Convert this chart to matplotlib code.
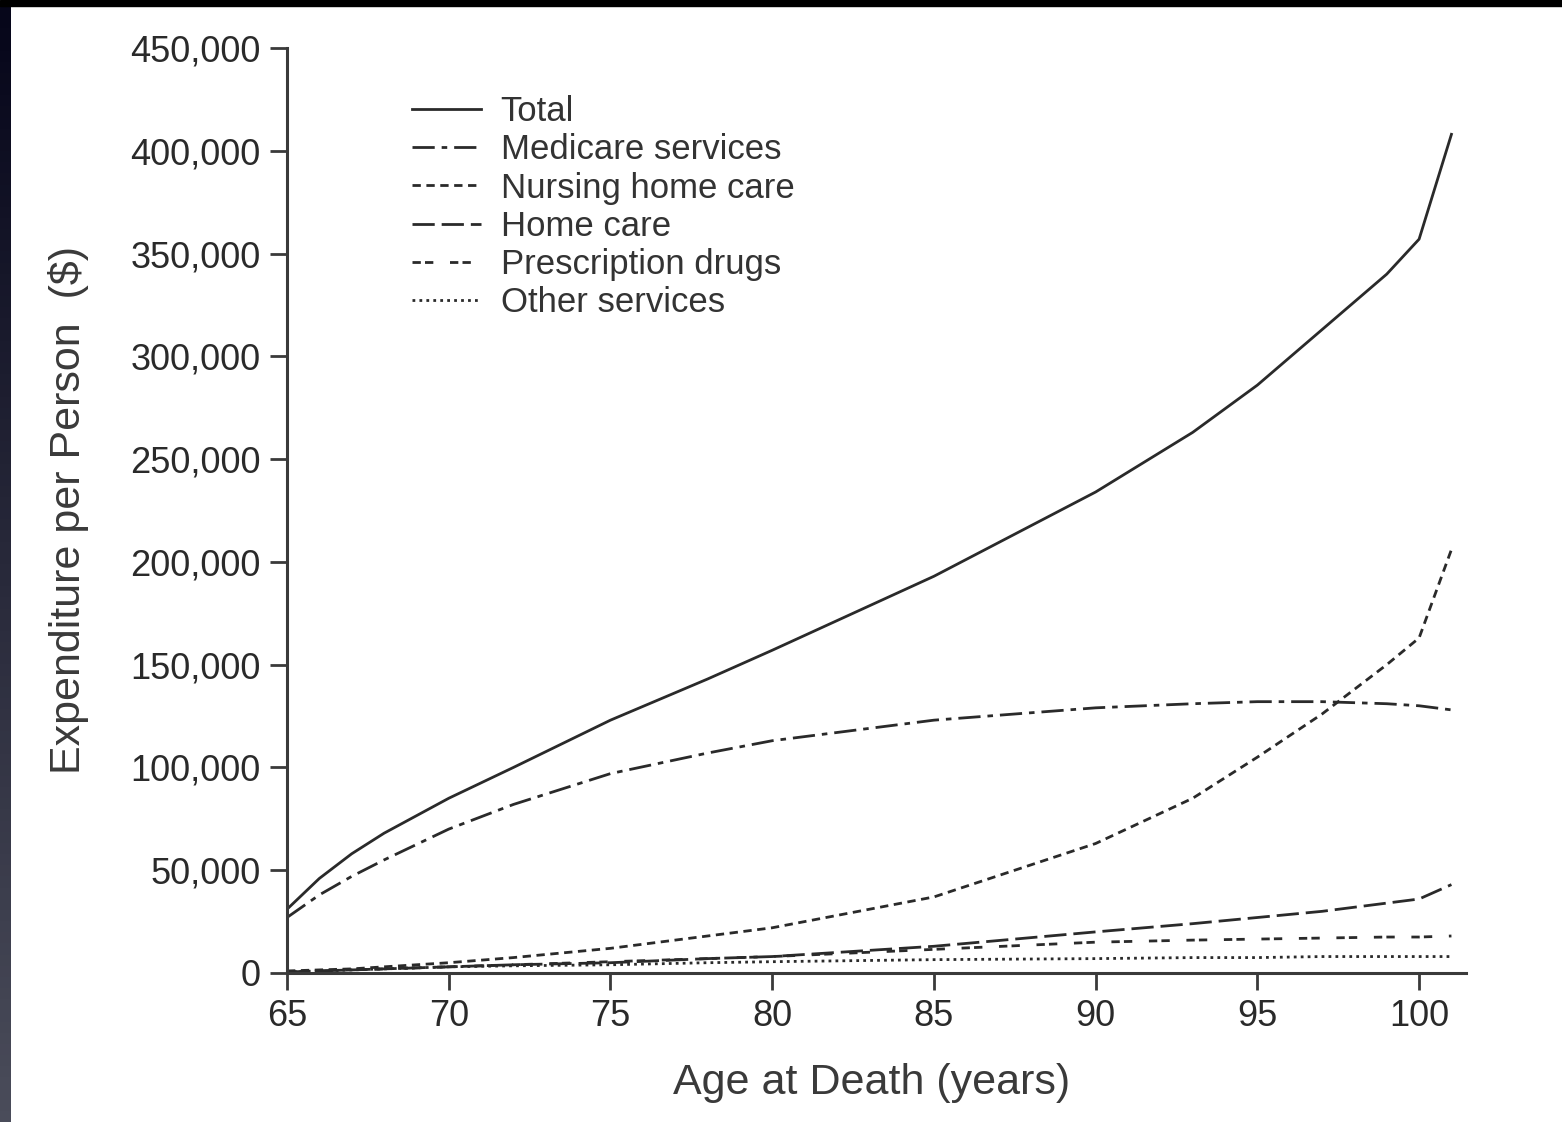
import numpy as np
import matplotlib.pyplot as plt
from matplotlib.patches import Rectangle
from matplotlib.colors import LinearSegmentedColormap
from matplotlib.ticker import FuncFormatter

# Дані
ages = [65, 66, 67, 68, 70, 72, 75, 78, 80, 85, 90, 93, 95, 97, 99, 100, 101]
total = [31000, 46000, 58000, 68000, 85000, 100000, 123000, 143000, 157000,
         193000, 234000, 263000, 286000, 313000, 340000, 357000, 408000]
medicare = [27000, 38000, 47000, 55000, 70000, 82000, 97000, 107000, 113000,
            123000, 129000, 131000, 132000, 132000, 131000, 130000, 128000]
nursing = [1000, 1500, 2000, 3000, 5000, 7500, 12000, 18000, 22000,
           37000, 63000, 85000, 105000, 126000, 150000, 163000, 206000]
home_care = [500, 1000, 1500, 2000, 3000, 4000, 5000, 7000, 8000,
             13000, 20000, 24000, 27000, 30000, 34000, 36000, 43000]
drugs = [500, 1000, 1500, 2000, 3000, 4000, 5500, 7000, 8000,
         11500, 15000, 16000, 16500, 17000, 17500, 17500, 18000]
other = [500, 1000, 1500, 2000, 3000, 3500, 4000, 5000, 5500,
         6500, 7000, 7500, 7500, 8000, 8000, 8000, 8000]

labels = ['Total', 'Medicare services', 'Nursing home care', 'Home care',
          'Prescription drugs', 'Other services']
x_ticks = [65, 70, 75, 80, 85, 90, 95, 100]
y_ticks = [0, 50000, 100000, 150000, 200000, 250000, 300000, 350000, 400000, 450000]

plt.rcParams['font.family'] = ['Liberation Sans', 'DejaVu Sans']
ink = '#2a2a2a'

fig = plt.figure(figsize=(15.62, 11.22), dpi=100, facecolor='white')

# Рамка зі скану: чорна смуга зверху, темна смуга зліва
fig.patches.append(Rectangle((0, 1 - 6 / 1122), 1, 6 / 1122, transform=fig.transFigure,
                             color='black', zorder=0))
band = fig.add_axes([0, 0, 11 / 1562, 1 - 6 / 1122])
band.imshow(np.linspace(0, 1, 100).reshape(-1, 1),
            cmap=LinearSegmentedColormap.from_list('b', ['#06061a', '#4a4c5a']), aspect='auto')
band.axis('off')

ax = fig.add_axes([287 / 1562, 149 / 1122, 1179 / 1562, 925 / 1122])

lw = 2.0
ax.plot(ages, total, color=ink, lw=lw, linestyle='-', label=labels[0])
ax.plot(ages, medicare, color=ink, lw=lw, linestyle=(0, (8, 2.5, 2, 2.5)), label=labels[1])
ax.plot(ages, nursing, color=ink, lw=lw, linestyle=(0, (3, 2)), label=labels[2])
ax.plot(ages, home_care, color=ink, lw=lw, linestyle=(0, (8, 2.5)), label=labels[3])
ax.plot(ages, drugs, color=ink, lw=lw, linestyle=(0, (3, 1.5, 3, 6)), label=labels[4])
ax.plot(ages, other, color=ink, lw=lw, linestyle=(0, (1, 1.5)), label=labels[5])

ax.set_xlim(65, 101.45)
ax.set_ylim(0, 450000)
ax.set_xticks(x_ticks)
ax.set_yticks(y_ticks)
ax.yaxis.set_major_formatter(FuncFormatter(lambda v, p: f'{v:,.0f}'))

for s in ['top', 'right']:
    ax.spines[s].set_visible(False)
for s in ['left', 'bottom']:
    ax.spines[s].set_linewidth(2.2)
    ax.spines[s].set_color('#3a3a3a')
ax.tick_params(axis='both', direction='out', length=12, width=2, color='#3a3a3a',
               labelsize=26, labelcolor=ink, pad=7)

ax.set_xlabel('Age at Death (years)', fontsize=31, color='#3a3a3a')
ax.set_ylabel('Expenditure per Person  ($)', fontsize=31, color='#3a3a3a')
ax.xaxis.set_label_coords(0.496, -0.097)
ax.yaxis.set_label_coords(-0.168, 0.5)

leg = ax.legend(loc='upper left', bbox_to_anchor=(0.106, 0.949), frameon=False,
                fontsize=25, handlelength=2.0, handletextpad=0.55, labelspacing=0.15,
                borderpad=0, borderaxespad=0)
for t in leg.get_texts():
    t.set_color('#333333')

plt.savefig('out.png', dpi=100, facecolor=fig.get_facecolor())
